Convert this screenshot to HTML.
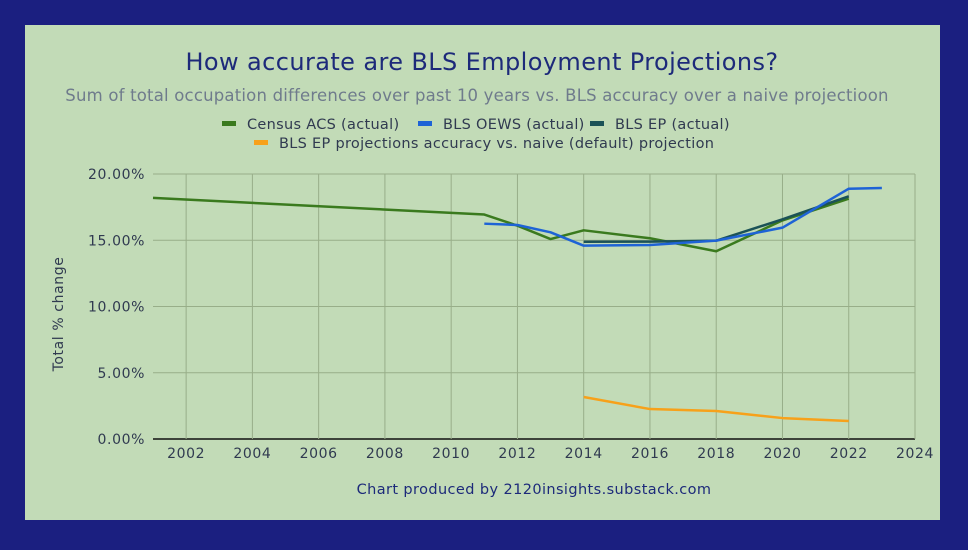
<!DOCTYPE html>
<html><head><meta charset="utf-8"><style>
body{margin:0;width:968px;height:550px;background:#1b1f80;font-family:"DejaVu Sans","Liberation Sans",sans-serif;overflow:hidden}
#panel{position:absolute;left:25px;top:25px;width:915px;height:495px;background:#c2dbb7}
text{font-family:"DejaVu Sans","Liberation Sans",sans-serif}
</style></head><body>
<div id="panel"></div>
<svg id="chart" width="968" height="550" style="position:absolute;left:0;top:0">
<text x="482" y="70" text-anchor="middle" font-size="24" letter-spacing="0.4" fill="#1d2a7a">How accurate are BLS Employment Projections?</text>
<text x="477" y="101" text-anchor="middle" font-size="16.5" letter-spacing="0.2" fill="#6f7b8c">Sum of total occupation differences over past 10 years vs. BLS accuracy over a naive projectioon</text>
<g id="grid"></g><g id="series"></g><g id="legend"></g>
<text x="0" y="0" transform="translate(63,314) rotate(-90)" text-anchor="middle" font-size="14" letter-spacing="0.6" fill="#303a50">Total % change</text>
<text x="534" y="494" text-anchor="middle" font-size="14.5" letter-spacing="0.4" fill="#1d2a7a">Chart produced by 2120insights.substack.com</text>
</svg>
<script>
const xTicks=[2002,2004,2006,2008,2010,2012,2014,2016,2018,2020,2022,2024];
const yTicks=[0,5,10,15,20];
const acsYears=[2001,2011,2012,2013,2014,2016,2018,2020,2022];
const acsVals=[18.2,16.94,16.1,15.09,15.75,15.15,14.17,16.5,18.14];
const oewsYears=[2011,2012,2013,2014,2016,2018,2020,2022,2023];
const oewsVals=[16.25,16.15,15.6,14.59,14.64,14.97,15.95,18.89,18.94];
const epYears=[2014,2016,2018,2020,2022];
const epVals=[14.89,14.9,14.97,16.58,18.32];
const projYears=[2014,2016,2018,2020,2022];
const projVals=[3.17,2.26,2.11,1.58,1.36];
const NS='http://www.w3.org/2000/svg';
const X=v=>153+(v-2001)*(915-153)/23;
const Y=v=>439-v*265/20;
function mk(t,a,p){const e=document.createElementNS(NS,t);for(const k in a)e.setAttribute(k,a[k]);p.appendChild(e);return e;}
const g=document.getElementById('grid');
yTicks.forEach(v=>{
 const l=mk('line',{x1:153,x2:915,y1:Y(v),y2:Y(v),stroke:v===0?'#111':'#98ae89','stroke-width':v===0?1.5:1},g);
 
 
 const t=mk('text',{x:145,y:Y(v)+5,'text-anchor':'end','font-size':14,'letter-spacing':0.6,fill:'#303a50'},g);
 t.textContent=v.toFixed(2)+'%';
 
 
});
xTicks.forEach(v=>{
 const l=mk('line',{x1:X(v),x2:X(v),y1:174,y2:439,stroke:'#98ae89','stroke-width':1},g);
 
 
 const t=mk('text',{x:X(v),y:458,'text-anchor':'middle','font-size':14,'letter-spacing':0.6,fill:'#303a50'},g);
 t.textContent=v;
 
 
});
const s=document.getElementById('series');
function line(xs,ys,c,name){
 const p=mk('polyline',{points:xs.map((x,i)=>X(x)+','+Y(ys[i])).join(' '),fill:'none',stroke:c,'stroke-width':2.5,'stroke-linejoin':'round'},s);
 
 
}
line(acsYears,acsVals,'#3a7a1e','census-acs-line');
line(epYears,epVals,'#1b5257','bls-ep-line');
line(oewsYears,oewsVals,'#1e63d6','bls-oews-line');
line(projYears,projVals,'#f7a11a','bls-ep-projection-accuracy-line');
const lg=document.getElementById('legend');
[[222,124,'#3a7a1e','Census ACS (actual)','legend-census-acs'],[418,124,'#1e63d6','BLS OEWS (actual)','legend-bls-oews'],[590,124,'#1b5257','BLS EP (actual)','legend-bls-ep'],[254,143,'#f7a11a','BLS EP projections accuracy vs. naive (default) projection','legend-bls-ep-projection']].forEach(d=>{
 const gg=mk('g',{},lg);
 
 
 mk('rect',{x:d[0],y:d[1]-3,width:14,height:5,fill:d[2]},gg);
 const t=mk('text',{x:d[0]+25,y:d[1]+5,'font-size':14.5,'letter-spacing':0.3,fill:'#303a50'},gg);
 t.textContent=d[3];
});
</script>
</body></html>
